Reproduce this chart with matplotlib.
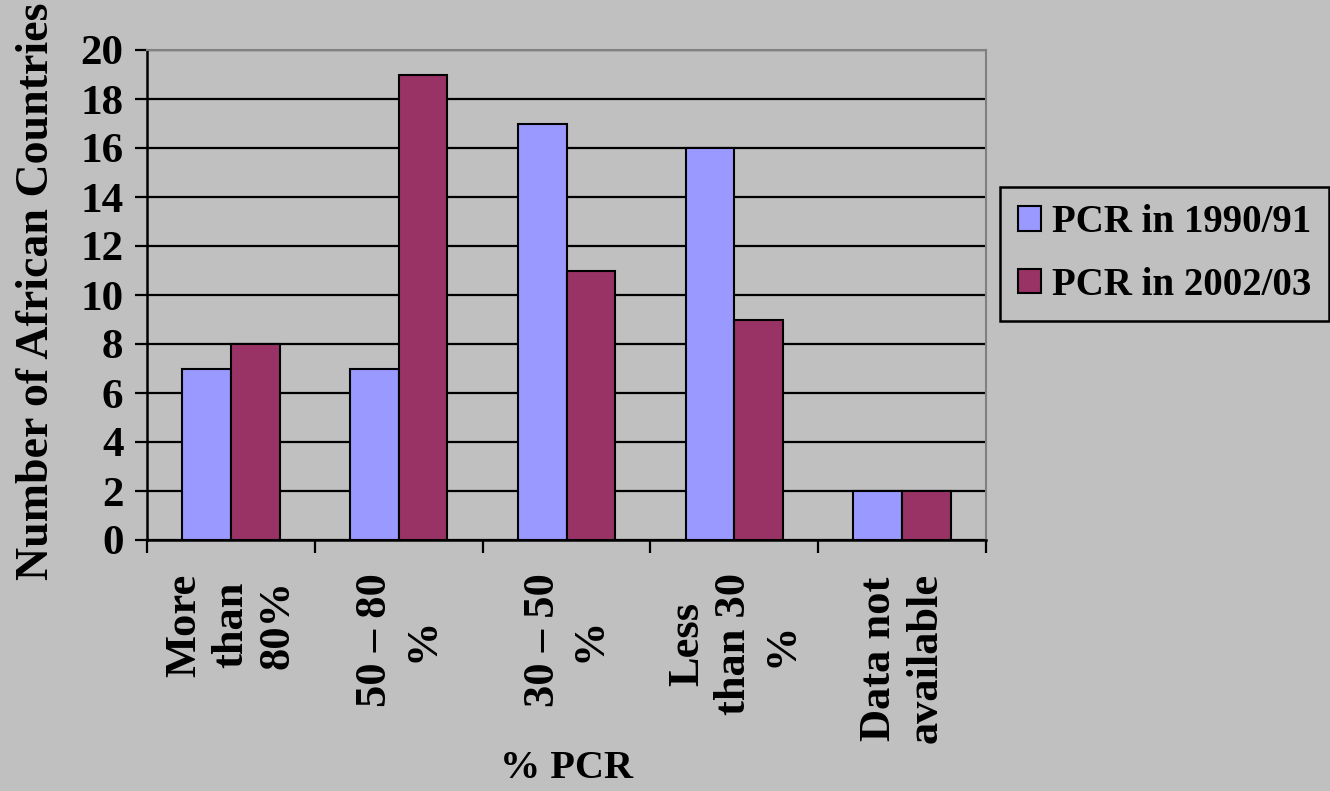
import matplotlib
matplotlib.use("Agg")
import matplotlib.pyplot as plt
import numpy as np

categories = ["More\nthan\n80%", "50 \u2013 80\n%", "30 \u2013 50\n%", "Less\nthan 30\n%", "Data not\navailable"]
pcr_1990 = [7, 7, 17, 16, 2]
pcr_2002 = [8, 19, 11, 9, 2]
series_names = ["PCR in 1990/91", "PCR in 2002/03"]

plt.rcParams["font.family"] = ["Liberation Serif", "DejaVu Serif"]
plt.rcParams["font.weight"] = "bold"

BG = "#C0C0C0"
fig = plt.figure(figsize=(13.3, 7.91), dpi=100, facecolor=BG)
ax = fig.add_axes([147 / 1330, 1 - 540 / 791, 839 / 1330, 490 / 791])
ax.set_facecolor(BG)

x = np.arange(len(categories))
w = 0.29
ax.bar(x - w / 2, pcr_1990, w, color="#9999FF", edgecolor="black", lw=1.5,
       label=series_names[0], zorder=3)
ax.bar(x + w / 2, pcr_2002, w, color="#993366", edgecolor="black", lw=1.5,
       label=series_names[1], zorder=3)

ax.set_xlim(-0.5, len(categories) - 0.5)
ax.set_ylim(0, 20)
ax.set_yticks(range(0, 21, 2))
ax.yaxis.grid(True, color="black", lw=1.6, zorder=0)
ax.set_axisbelow(True)

# major ticks at category boundaries, labels at centres
ax.set_xticks(np.arange(len(categories) + 1) - 0.5)
ax.set_xticklabels([])
ax.set_xticks(x, minor=True)
ax.set_xticklabels(categories, minor=True, rotation=90, ha="center", va="top",
                   multialignment="center", linespacing=1.22, fontsize=32,
                   fontweight="bold")
ax.tick_params(axis="x", which="minor", length=0, pad=24)
ax.tick_params(axis="x", which="major", length=9, width=1.6, direction="out")
ax.tick_params(axis="y", length=9, width=1.6, direction="out", pad=8, labelsize=31)

for s in ("left", "bottom"):
    ax.spines[s].set_color("black")
    ax.spines[s].set_linewidth(1.8)
for s in ("top", "right"):
    ax.spines[s].set_color("#808080")
    ax.spines[s].set_linewidth(1.5)

fig.text(37 / 1330, 1 - 580 / 791, "Number of African Countries", rotation=90,
         ha="center", va="bottom", fontsize=33, fontweight="bold")
fig.text(566 / 1330, 1 - 768 / 791, "% PCR", ha="center", va="center",
         fontsize=29, fontweight="bold")

leg = ax.legend(loc="upper left", bbox_to_anchor=(1000 / 1330, 1 - 187 / 791),
                bbox_transform=fig.transFigure, fontsize=28, frameon=True,
                fancybox=False, facecolor=BG, edgecolor="black",
                handlelength=0.6, handleheight=0.6, handletextpad=0.3,
                labelspacing=0.65, borderpad=0.45, borderaxespad=0)
leg.get_frame().set_linewidth(1.8)
leg.get_frame().set_alpha(1)

fig.savefig("out.png", dpi=100, facecolor=BG)
